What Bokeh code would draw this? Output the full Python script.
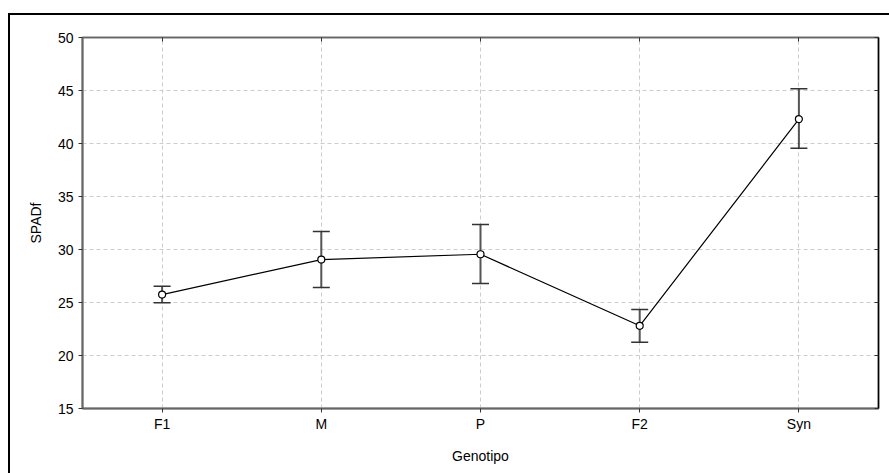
from bokeh.plotting import figure
from bokeh.models import (ColumnDataSource, Whisker, TeeHead, CategoricalAxis,
                          LinearAxis, FixedTicker, Range1d)
from bokeh.embed import file_html
from bokeh.resources import INLINE

genotipo = ["F1", "M", "P", "F2", "Syn"]
media = [25.75, 29.05, 29.55, 22.8, 42.3]
inferior = [24.97, 26.42, 26.8, 21.26, 39.56]
superior = [26.54, 31.7, 32.35, 24.34, 45.16]
y_ticks = [15, 20, 25, 30, 35, 40, 45, 50]

src = ColumnDataSource(dict(x=genotipo, y=media, lo=inferior, hi=superior))

FONT = "Liberation Sans"

p = figure(x_range=genotipo, y_range=Range1d(15, 50), width=881, height=460,
           output_backend="svg", toolbar_location=None,
           min_border_left=72, min_border_top=22, min_border_right=13,
           min_border_bottom=67)
p.styles = {"border-left": "2px solid black", "border-top": "2px solid black",
            "margin-top": "13px", "margin-left": "8px"}

p.outline_line_color = "#555555"
p.outline_line_width = 1.5
p.background_fill_color = "white"
p.border_fill_color = "white"

# grids
for g in (p.xgrid[0], p.ygrid[0]):
    g.grid_line_color = "#cccccc"
    g.grid_line_dash = "4 3"
    g.grid_line_width = 1
p.yaxis.ticker = FixedTicker(ticks=y_ticks)
p.ygrid.ticker = FixedTicker(ticks=y_ticks)

for ax in (p.xaxis[0], p.yaxis[0]):
    ax.axis_line_color = "#666666"
    ax.axis_line_width = 2
    ax.major_tick_line_color = "#333333"
    ax.major_tick_out = 4
    ax.major_tick_in = 0
    ax.minor_tick_line_color = None
    ax.major_label_text_font = FONT
    ax.major_label_text_font_size = "14px"
    ax.major_label_text_color = "black"
    ax.axis_label_text_font = FONT
    ax.axis_label_text_font_size = "14px"
    ax.axis_label_text_font_style = "normal"
    ax.axis_label_text_color = "black"

p.xaxis.axis_label = "Genotipo"
p.yaxis.axis_label = "SPADf"
p.xaxis.major_label_standoff = 3
p.xaxis.axis_label_standoff = 13
p.yaxis.major_label_standoff = 5
p.yaxis.axis_label_standoff = 11

top = CategoricalAxis(major_label_text_color=None, axis_line_color="#666666",
                      axis_line_width=1.5, major_tick_in=4, major_tick_out=0,
                      major_tick_line_color="#333333")
right = LinearAxis(ticker=FixedTicker(ticks=y_ticks), major_label_text_color=None,
                   axis_line_color="black", axis_line_width=1.5, major_tick_in=4,
                   major_tick_out=0, minor_tick_line_color=None,
                   major_tick_line_color="#333333")
p.add_layout(top, "above")
p.add_layout(right, "right")

w = Whisker(source=src, base="x", lower="lo", upper="hi",
            line_color="#555555", line_width=2,
            upper_head=TeeHead(size=17, line_color="#333333", line_width=1.5),
            lower_head=TeeHead(size=17, line_color="#333333", line_width=1.5))
p.add_layout(w)

p.line("x", "y", source=src, line_color="black", line_width=1.2)
p.scatter("x", "y", source=src, size=7, fill_color="white", line_color="black",
          line_width=1.2)

open("out.html", "w").write(file_html(p, INLINE))
